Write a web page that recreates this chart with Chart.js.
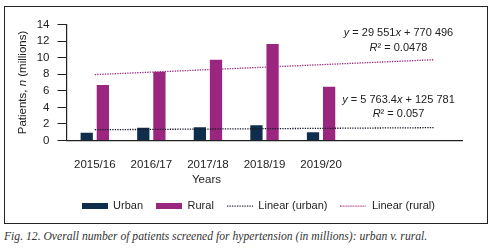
<!DOCTYPE html>
<html lang="en">
<head>
<meta charset="UTF-8">
<title>Patients screened for hypertension</title>
<script src="https://cdn.jsdelivr.net/npm/chart.js"></script>
<style>
  body { margin: 0; background: #fff; width: 496px; height: 252px; overflow: hidden; }
  .box { position: absolute; left: 4px; top: 6px; width: 484px; height: 218px;
         border: 1.5px solid #222; box-sizing: border-box; }
  .box canvas { position: absolute; left: 0; top: 0; }
  .caption { position: absolute; left: 4px; top: 230px; margin: 0;
             font: italic 11.65px "Liberation Serif", serif; color: #333; white-space: nowrap; }
</style>
</head>
<body>

<div class="box"><canvas id="chart"></canvas></div>
<p class="caption">Fig. 12. Overall number of patients screened for hypertension (in millions): urban v. rural.</p>

<script>
// categories (two empty slots at the end, the trendlines run on into them)
const years = ['2015/16', '2016/17', '2017/18', '2018/19', '2019/20', '', ''];

// patients, millions
const urban = [0.95, 1.55, 1.6, 1.83, 1.0];
const rural = [6.7, 8.3, 9.75, 11.65, 6.5];

// trendline ends (first and last slot)
const urbanTrend = [1.3, null, null, null, null, null, 1.55];
const ruralTrend = [7.95, null, null, null, null, null, 9.75];

// equation labels, [text, italic] pieces
const ruralEq = [[['y', 1], [' = 29 551', 0], ['x', 1], [' + 770 496', 0]], [['R', 1], ['\u00b2 = 0.0478', 0]]];
const urbanEq = [[['y', 1], [' = 5 763.4', 0], ['x', 1], [' + 125 781', 0]], [['R', 1], ['\u00b2 = 0.057', 0]]];

const FONT = '"Liberation Sans", Arial, sans-serif';
const URBAN = '#0f2e4e';
const RURAL = '#9b2680';
const TREND_URBAN = '#1a1a2a';

function drawPieces(ctx, pieces, cx, cy, size, align) {
    let total = 0;
    pieces.forEach(p => {
        ctx.font = (p[1] ? 'italic ' : '') + size + 'px ' + FONT;
        total += ctx.measureText(p[0]).width;
    });
    let x = align === 'center' ? cx - total / 2 : cx;
    pieces.forEach(p => {
        ctx.font = (p[1] ? 'italic ' : '') + size + 'px ' + FONT;
        ctx.fillText(p[0], x, cy);
        x += ctx.measureText(p[0]).width;
    });
}

// small legend markers: a filled bar or a dotted line
function marker(color, dotted) {
    const c = document.createElement('canvas');
    c.width = 26;
    c.height = 6;
    const g = c.getContext('2d');
    g.fillStyle = color;
    if (dotted) {
        for (let x = 0; x < 26; x += 2.5) g.fillRect(x, 2.5, 1.3, 1.2);
    } else {
        g.fillRect(0, 0, 26, 6);
    }
    return c;
}
const legendMarks = [marker(URBAN), marker(RURAL), marker(TREND_URBAN, true), marker(RURAL, true)];

// axis titles and equations, drawn by hand because of the italic letters
const labelsPlugin = {
    id: 'labels',
    afterLayout(chart) {
        // legend sits a little right of centre in the original
        const l = chart.legend;
        l.left += 11;
        l.right += 11;
    },
    afterDraw(chart) {
        const ctx = chart.ctx;
        const a = chart.chartArea;
        ctx.save();
        ctx.fillStyle = '#222';
        ctx.textBaseline = 'middle';
        ctx.textAlign = 'left';

        // y title
        ctx.save();
        ctx.translate(a.left - 44, (a.top + a.bottom) / 2);
        ctx.rotate(-Math.PI / 2);
        drawPieces(ctx, [['Patients, ', 0], ['n', 1], [' (millions)', 0]], 0, 0, 11.5, 'center');
        ctx.restore();

        // x title
        drawPieces(ctx, [['Years', 0]], a.left + 140, a.bottom + 39, 11.5, 'center');

        // equations
        const ex = a.left + 332;
        drawPieces(ctx, ruralEq[0], ex, a.top + 8, 11, 'center');
        drawPieces(ctx, ruralEq[1], ex, a.top + 23, 11, 'center');
        drawPieces(ctx, urbanEq[0], ex, a.top + 75, 11, 'center');
        drawPieces(ctx, urbanEq[1], ex, a.top + 89, 11, 'center');
        ctx.restore();
    }
};

new Chart(document.getElementById('chart'), {
    data: {
        labels: years,
        datasets: [
            { type: 'bar', label: 'Urban', data: urban, backgroundColor: URBAN,
              categoryPercentage: 0.57, barPercentage: 0.76, order: 2 },
            { type: 'bar', label: 'Rural', data: rural, backgroundColor: RURAL,
              categoryPercentage: 0.57, barPercentage: 0.76, order: 2 },
            { type: 'line', label: 'Linear (urban)', data: urbanTrend, borderColor: TREND_URBAN,
              borderWidth: 1.3, borderDash: [1.3, 1.2], pointRadius: 0, spanGaps: true, order: 1 },
            { type: 'line', label: 'Linear (rural)', data: ruralTrend, borderColor: RURAL,
              borderWidth: 1.3, borderDash: [1.3, 1.2], pointRadius: 0, spanGaps: true, order: 1 }
        ]
    },
    options: {
        responsive: true,
        maintainAspectRatio: false,
        animation: false,
        layout: { padding: { left: 27, right: 24.5, top: 17.5, bottom: 1.5 } },
        plugins: {
            tooltip: { enabled: false },
            legend: {
                position: 'bottom',
                labels: {
                    usePointStyle: true,
                    pointStyleWidth: 26,
                    boxHeight: 6,
                    padding: 13,
                    color: '#222',
                    font: { family: FONT, size: 11 },
                    generateLabels(chart) {
                        const items = Chart.defaults.plugins.legend.labels.generateLabels(chart);
                        items.sort((p, q) => p.datasetIndex - q.datasetIndex);
                        items.forEach(it => { it.pointStyle = legendMarks[it.datasetIndex]; });
                        return items;
                    }
                }
            }
        },
        scales: {
            x: {
                grid: { display: false, drawTicks: false },
                border: { display: true, color: '#222', width: 1.2 },
                ticks: { color: '#222', padding: 17, font: { family: FONT, size: 11.5 }, maxRotation: 0 },
                afterFit(scale) { scale.height = 47; }
            },
            y: {
                min: 0,
                max: 14,
                grid: { display: true, drawOnChartArea: false, drawTicks: true, tickLength: 9, color: '#222', lineWidth: 1 },
                border: { display: true, color: '#222', width: 1.2 },
                ticks: { stepSize: 2, autoSkip: false, color: '#222', padding: 8, font: { family: FONT, size: 11.5 } },
                afterFit(scale) { scale.width = 34.5; }
            }
        }
    },
    plugins: [labelsPlugin]
});
</script>

</body>
</html>
